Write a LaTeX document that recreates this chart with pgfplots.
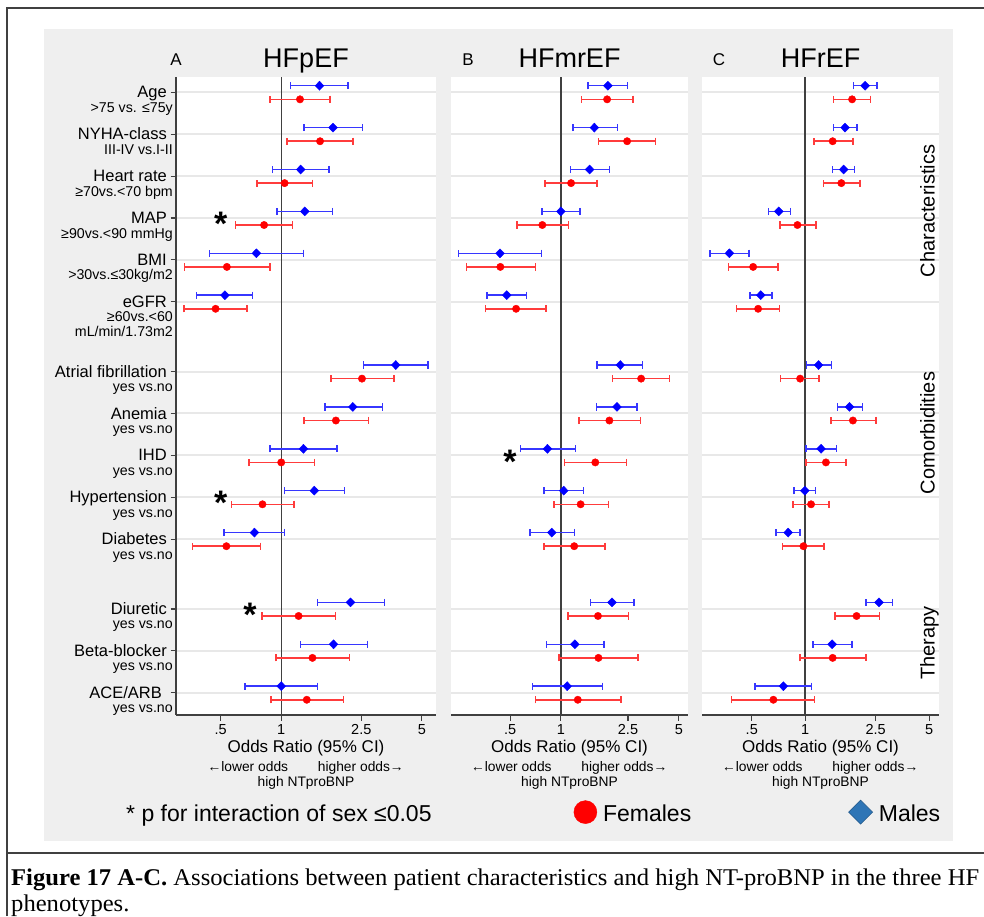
\documentclass[border=0pt]{standalone}
\usepackage{fontspec}
\setmainfont{Liberation Sans}
\newfontfamily\capfont{Liberation Serif}
\usepackage{graphicx}
\usepackage{pgfplots}
\pgfplotsset{compat=1.18}
\usepackage{pgfplotstable}

\definecolor{bgray}{HTML}{EFEFEF}
\definecolor{gridc}{HTML}{E8E8E8}
\definecolor{axc}{HTML}{404040}
\definecolor{ciblue}{RGB}{55,55,255}
\definecolor{cired}{RGB}{255,60,60}
\definecolor{legblue}{HTML}{2E75B6}
\newcommand{\fs}[1]{\fontsize{#1}{#1}\selectfont}
\newsavebox\capA

% row m mlo mhi f flo fhi  (odds ratios, 95% CI)
\pgfplotstableread{
row m mlo mhi f flo fhi
0 1.55 1.11 2.15 1.24 0.878 1.75
1 1.81 1.30 2.53 1.56 1.07 2.27
2 1.25 0.906 1.73 1.04 0.759 1.43
3 1.31 0.955 1.80 0.822 0.592 1.14
4 0.753 0.440 1.29 0.537 0.331 0.878
5 0.525 0.380 0.720 0.472 0.329 0.676
6.667 3.71 2.56 5.37 2.52 1.77 3.64
7.667 2.27 1.65 3.18 1.87 1.30 2.72
8.667 1.29 0.878 1.89 1.00 0.692 1.46
9.667 1.46 1.04 2.06 0.807 0.567 1.16
10.667 0.736 0.519 1.04 0.534 0.363 0.789
12.333 2.21 1.51 3.27 1.22 0.803 1.86
13.333 1.82 1.25 2.68 1.43 0.941 2.18
14.333 1.00 0.661 1.51 1.34 0.891 2.04
}\tabA
\pgfplotstableread{
row m mlo mhi f flo fhi
0 1.90 1.45 2.49 1.88 1.33 2.68
1 1.58 1.18 2.16 2.47 1.67 3.65
2 1.48 1.14 1.95 1.15 0.807 1.64
3 1.00 0.774 1.30 0.777 0.550 1.11
4 0.436 0.248 0.771 0.438 0.275 0.707
5 0.478 0.366 0.624 0.543 0.358 0.818
6.667 2.25 1.64 3.05 2.99 2.02 4.42
7.667 2.15 1.63 2.83 1.94 1.28 2.96
8.667 0.833 0.575 1.22 1.60 1.05 2.45
9.667 1.04 0.796 1.36 1.31 0.912 1.92
10.667 0.884 0.657 1.20 1.20 0.796 1.83
12.333 2.01 1.50 2.72 1.66 1.10 2.52
13.333 1.21 0.825 1.80 1.67 0.977 2.87
14.333 1.09 0.678 1.76 1.26 0.710 2.27
}\tabB
\pgfplotstableread{
row m mlo mhi f flo fhi
0 2.18 1.87 2.54 1.84 1.44 2.33
1 1.68 1.44 1.96 1.43 1.12 1.86
2 1.65 1.43 1.90 1.60 1.27 2.04
3 0.710 0.621 0.826 0.905 0.723 1.15
4 0.374 0.291 0.483 0.509 0.371 0.704
5 0.562 0.489 0.651 0.543 0.411 0.716
6.667 1.19 1.02 1.41 0.937 0.729 1.20
7.667 1.78 1.52 2.10 1.86 1.40 2.51
8.667 1.23 1.01 1.50 1.31 1.01 1.70
9.667 0.996 0.867 1.14 1.08 0.852 1.36
10.667 0.802 0.686 0.937 0.978 0.745 1.28
12.333 2.61 2.20 3.10 1.95 1.47 2.63
13.333 1.42 1.11 1.84 1.43 0.937 2.20
14.333 0.754 0.522 1.09 0.662 0.384 1.13
}\tabC

\pgfplotsset{
  fpanel/.style={
    scale only axis, height=638pt, y dir=reverse,
    ymin=-0.365, ymax=14.865,
    axis x line*=bottom, axis y line*=left,
    axis background/.style={fill=white},
    axis line style={axc, line width=1.3pt},
    xtick={0.5,1,2.5,5}, xticklabels={.5,1,2.5,5},
    xminorticks=false, yminorticks=false,
    tick align=outside, major tick length=5.5pt,
    tick style={axc, line width=1.1pt},
    xticklabel style={font=\fs{14.5}},
    ytick={0,1,2,3,4,5,6.667,7.667,8.667,9.667,10.667,12.333,13.333,14.333},
    yticklabels={},
    ymajorgrids, major grid style={gridc, line width=2pt},
    clip=false,
  },
}
\newcommand{\panel}[1]{%
  \addplot[axc, line width=1.4pt, forget plot] coordinates {(1,-0.365) (1,14.865)};
  \addplot[forget plot, only marks, mark=diamond*, mark size=4.5pt,
    mark options={fill=blue, draw=blue, xscale=1.3},
    error bars/x dir=both, error bars/x explicit,
    error bars/error bar style={ciblue, line width=1.5pt},
    error bars/error mark=|,
    error bars/error mark options={ciblue, line width=1.4pt, mark size=3.6pt}]
    table[x=m, y expr=\thisrow{row}-0.157,
     x error plus expr=\thisrow{mhi}-\thisrow{m},
     x error minus expr=\thisrow{m}-\thisrow{mlo}] {#1};
  \addplot[forget plot, only marks, mark=*, mark size=3.7pt,
    mark options={fill=red, draw=red},
    error bars/x dir=both, error bars/x explicit,
    error bars/error bar style={cired, line width=1.5pt},
    error bars/error mark=|,
    error bars/error mark options={cired, line width=1.4pt, mark size=3.6pt}]
    table[x=f, y expr=\thisrow{row}+0.168,
     x error plus expr=\thisrow{fhi}-\thisrow{f},
     x error minus expr=\thisrow{f}-\thisrow{flo}] {#1};
}

\begin{document}
\sbox\capA{\capfont\fs{20}\textbf{Figure 17 A-C.} Associations between patient characteristics and high NT-proBNP in the three HF}%
\pgfmathsetmacro\capscale{968/\the\wd\capA}%
\begin{tikzpicture}[x=1pt,y=1pt]
\path[use as bounding box] (0,0) rectangle (984,-916);
\fill[bgray] (44,-29) rectangle (953,-841);
\draw[axc, line width=1.5pt] (7,-916) -- (7,-8) -- (984,-8);
\draw[axc, line width=1.5pt] (7,-853) -- (984,-853);

% Panel A
\begin{semilogxaxis}[fpanel, at={(176pt,-715pt)}, anchor=south west, width=260pt,
  xmin=0.3, xmax=5.88]
\panel{\tabA}
\node[font=\fs{34}\bfseries, yshift=-6pt] at (axis cs:0.5,3) {*};
\node[font=\fs{34}\bfseries, yshift=-6pt] at (axis cs:0.5,9.667) {*};
\node[font=\fs{34}\bfseries, yshift=-6pt] at (axis cs:0.70,12.333) {*};
\end{semilogxaxis}

% Panel B
\begin{semilogxaxis}[fpanel, at={(451pt,-715pt)}, anchor=south west, width=237pt,
  xmin=0.2234, xmax=5.67,
  y axis line style={draw=none}, ytick style={draw=none}]
\panel{\tabB}
\node[font=\fs{34}\bfseries, yshift=-6pt] at (axis cs:0.5,8.667) {*};
\end{semilogxaxis}

% Panel C
\begin{semilogxaxis}[fpanel, at={(702pt,-715pt)}, anchor=south west, width=237pt,
  xmin=0.262, xmax=5.69,
  y axis line style={draw=none}, ytick style={draw=none},
  legend columns=2,
  legend style={at={(axis description cs:-0.5422,-0.1528)}, anchor=west,
    draw=none, fill=none, inner sep=0pt,
    nodes={font=\fs{23}, inner sep=2pt},
    /tikz/every odd column/.append style={column sep=4pt},
    /tikz/every even column/.append style={column sep=155pt}}]
\panel{\tabC}
\addlegendimage{legend image code/.code={\fill[red] (11.5pt,2pt) circle (11.5pt);}}
\addlegendentry{Females}
\addlegendimage{legend image code/.code={\filldraw[fill=legblue, draw=legblue!75!black, line width=0.6pt] (12pt,-10pt) -- (24pt,2pt) -- (12pt,14pt) -- (0pt,2pt) -- cycle;}}
\addlegendentry{Males}
\end{semilogxaxis}

% titles
\node[anchor=base, font=\fs{27}] at (306,-67.5) {HFpEF};
\node[anchor=base, font=\fs{27}] at (569.5,-67.5) {HFmrEF};
\node[anchor=base, font=\fs{27}] at (820.5,-67.5) {HFrEF};
\node[anchor=base, font=\fs{17}] at (176,-65) {A};
\node[anchor=base, font=\fs{17}] at (468,-65) {B};
\node[anchor=base, font=\fs{17}] at (719,-65) {C};

% row labels
\begin{scope}[every node/.style={anchor=base east, inner sep=0pt}]
\node[font=\fs{16.5}] at (167,-97.8) {Age};
\node[font=\fs{14.2}] at (173,-112.3) {>75 vs. ≤75y};
\node[font=\fs{16.5}] at (167,-139.7) {NYHA-class};
\node[font=\fs{14.2}] at (173,-154.2) {III-IV vs.I-II};
\node[font=\fs{16.5}] at (167,-181.6) {Heart rate};
\node[font=\fs{14.2}] at (173,-196.1) {≥70vs.<70 bpm};
\node[font=\fs{16.5}] at (167,-223.5) {MAP};
\node[font=\fs{14.2}] at (173,-238.0) {≥90vs.<90 mmHg};
\node[font=\fs{16.5}] at (167,-265.4) {BMI};
\node[font=\fs{14.2}] at (173,-279.9) {>30vs.≤30kg/m2};
\node[font=\fs{16.5}] at (167,-307.3) {eGFR};
\node[font=\fs{14.2}] at (173,-321.8) {≥60vs.<60};
\node[font=\fs{14.2}] at (173,-336.0) {mL/min/1.73m2};
\node[font=\fs{16.5}] at (167,-377.1) {Atrial fibrillation};
\node[font=\fs{14.2}] at (173,-391.6) {yes vs.no};
\node[font=\fs{16.5}] at (167,-419.0) {Anemia};
\node[font=\fs{14.2}] at (173,-433.5) {yes vs.no};
\node[font=\fs{16.5}] at (167,-460.9) {IHD};
\node[font=\fs{14.2}] at (173,-475.4) {yes vs.no};
\node[font=\fs{16.5}] at (167,-502.8) {Hypertension};
\node[font=\fs{14.2}] at (173,-517.3) {yes vs.no};
\node[font=\fs{16.5}] at (167,-544.6) {Diabetes};
\node[font=\fs{14.2}] at (173,-559.1) {yes vs.no};
\node[font=\fs{16.5}] at (167,-614.4) {Diuretic};
\node[font=\fs{14.2}] at (173,-628.9) {yes vs.no};
\node[font=\fs{16.5}] at (167,-656.3) {Beta-blocker};
\node[font=\fs{14.2}] at (173,-670.8) {yes vs.no};
\node[font=\fs{16.5}] at (162,-698.2) {ACE/ARB};
\node[font=\fs{14.2}] at (173,-712.5) {yes vs.no};
\end{scope}

% section labels
\node[anchor=base, rotate=90, font=\fs{20}, inner sep=0pt] at (934.5,-211) {Characteristics};
\node[anchor=base, rotate=90, font=\fs{20}, inner sep=0pt] at (934.5,-433) {Comorbidities};
\node[anchor=base, rotate=90, font=\fs{20}, inner sep=0pt] at (934.5,-643) {Therapy};

% x labels
\foreach \cx in {306,569.5,820.5}{
  \node[anchor=base, font=\fs{17}, inner sep=0pt] at (\cx,-752.7) {Odds Ratio (95\% CI)};
  \node[anchor=base east, font=\fs{13.8}, inner sep=0pt] at (\cx-17.7,-771.7) {←lower odds};
  \node[anchor=base west, font=\fs{13.8}, inner sep=0pt] at (\cx+11.7,-771.7) {higher odds→};
  \node[anchor=base, font=\fs{13.8}, inner sep=0pt] at (\cx,-786.5) {high NTproBNP};
}

% note
\node[anchor=base west, font=\fs{23}, inner sep=0pt] at (126,-821) {* p for interaction of sex ≤0.05};

% caption
\node[anchor=base west, inner sep=0pt] at (11,-885) {\scalebox{\capscale}[1.2]{\usebox\capA}};
\node[anchor=base west, inner sep=0pt] at (11,-911.5) {\scalebox{\capscale}[1.2]{\capfont\fs{20}phenotypes.}};
\end{tikzpicture}
\end{document}
